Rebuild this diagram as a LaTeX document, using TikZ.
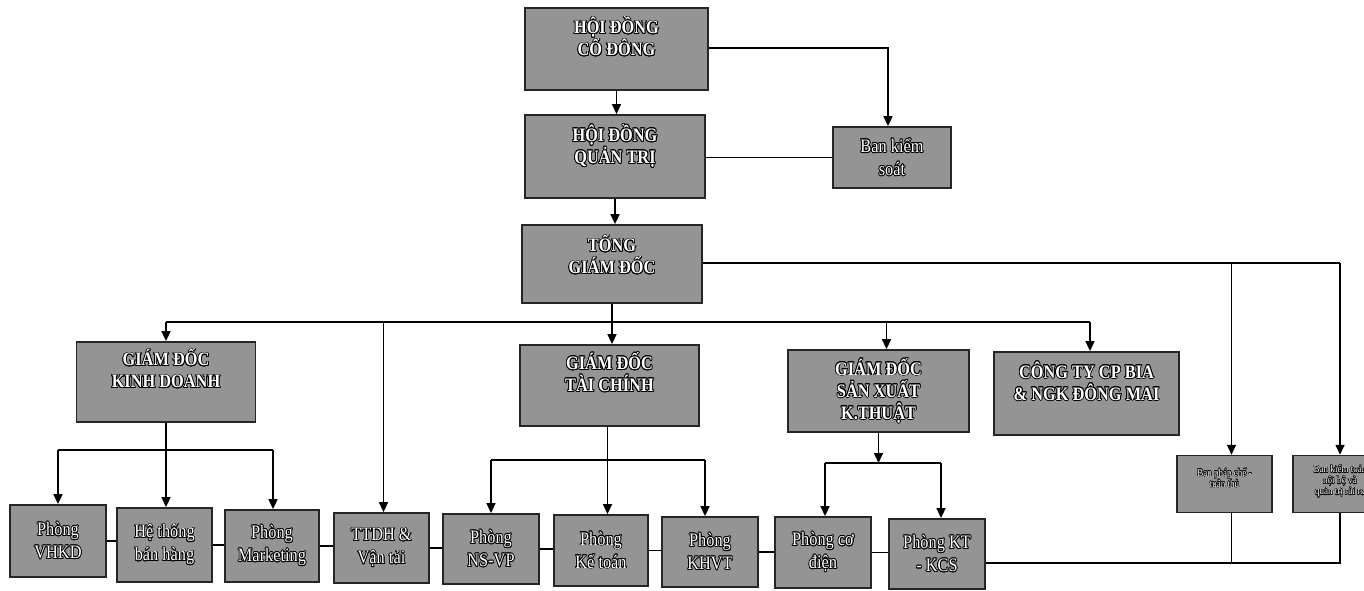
\documentclass[tikz,border=0pt]{standalone}
\usepackage{fontspec}
\setmainfont{Liberation Serif}
\newfontfamily\condfont[FakeStretch=0.86]{Liberation Serif}
\usepackage[copies]{contour}
\usetikzlibrary{arrows.meta}
\definecolor{boxgray}{RGB}{148,148,148}
\newcommand\ct[1]{\contour{black}{#1}}
\tikzset{
  box/.style={draw=black!85, line width=1.8pt, fill=boxgray, align=center, text=white, inner sep=2pt,
    font=\contourlength{0.75pt}\condfont\fontsize{19}{23}\selectfont},
  bigbox/.style={box, font=\contourlength{0.8pt}\condfont\bfseries\fontsize{19}{22}\selectfont},
  smallbox/.style={box, line width=1.5pt, font=\contourlength{0.35pt}\condfont\fontsize{10.5}{11}\selectfont},
  lift/.style={text depth=#1},
  arr/.style={-{Triangle[length=10pt,width=9pt]}, line width=1.6pt},
  ln/.style={line width=1.6pt}
}
\begin{document}
\begin{tikzpicture}[x=1pt,y=-1pt]
\useasboundingbox[fill=white] (0,0) rectangle (1364,591);
% top
\node[bigbox, lift=25pt, minimum width=183pt, minimum height=82pt] (hdcd) at (616.5,49) {\ct{HỘI ĐỒNG}\\\ct{CỔ ĐÔNG}};
\node[bigbox, lift=25pt, minimum width=180pt, minimum height=83pt] (hdqt) at (615,156.5) {\ct{HỘI ĐỒNG}\\\ct{QUẢN TRỊ}};
\node[box, minimum width=118pt, minimum height=61pt] (bks) at (892,157.5) {\ct{Ban kiểm}\\\ct{soát}};
\node[bigbox, lift=19pt, minimum width=180pt, minimum height=78pt] (tgd) at (612,264) {\ct{TỔNG}\\\ct{GIÁM ĐỐC}};
% level 2
\node[bigbox, lift=27pt, minimum width=179pt, minimum height=80pt] (gdkd) at (166,382) {\ct{GIÁM ĐỐC}\\\ct{KINH DOANH}};
\node[bigbox, lift=27pt, minimum width=179pt, minimum height=81pt] (gdtc) at (609.5,385.5) {\ct{GIÁM ĐỐC}\\\ct{TÀI CHÍNH}};
\node[bigbox, minimum width=181pt, minimum height=82pt] (gdsx) at (878.5,391) {\ct{GIÁM ĐỐC}\\\ct{SẢN XUẤT}\\\ct{K.THUẬT}};
\node[bigbox, lift=25pt, minimum width=185pt, minimum height=83pt] (cty) at (1086.5,393.5) {\ct{CÔNG TY CP BIA}\\\ct{\& NGK ĐÔNG MAI}};
% bottom
\node[box, minimum width=96pt, minimum height=72pt] (vhkd) at (58,541) {\ct{Phòng}\\\ct{VHKD}};
\node[box, minimum width=95pt, minimum height=74pt] (htbh) at (164.5,545) {\ct{Hệ thống}\\\ct{bán hàng}};
\node[box, minimum width=94pt, minimum height=72pt] (mkt) at (272,546) {\ct{Phòng}\\\ct{Marketing}};
\node[box, minimum width=95pt, minimum height=70pt] (ttdh) at (381.5,548) {\ct{TTDH \&}\\\ct{Vận tải}};
\node[box, minimum width=96pt, minimum height=70pt] (nsvp) at (491,549) {\ct{Phòng}\\\ct{NS-VP}};
\node[box, minimum width=94pt, minimum height=71pt] (kt) at (601,550.5) {\ct{Phòng}\\\ct{Kế toán}};
\node[box, minimum width=96pt, minimum height=70pt] (khvt) at (710,552) {\ct{Phòng}\\\ct{KHVT}};
\node[box, minimum width=96pt, minimum height=71pt] (cod) at (823,552.5) {\ct{Phòng cơ}\\\ct{điện}};
\node[box, minimum width=96pt, minimum height=70pt] (kcs) at (937,554) {\ct{Phòng KT}\\\ct{- KCS}};
\node[smallbox, lift=12pt, minimum width=95pt, minimum height=57pt] (bpc) at (1224.5,484) {\ct{Ban pháp chế -}\\\ct{tuân thủ}};
\node[smallbox, lift=8pt, minimum width=94pt, minimum height=57pt] (bkt) at (1340,484) {\ct{Ban kiểm toán}\\\ct{nội bộ và}\\\ct{quản trị rủi ro}};
% coordinates
\coordinate (busL) at (166,322);
\coordinate (busR) at (1090,322);
\coordinate (tgdR) at (1340,263);
\coordinate (kdbar) at (0,450);
\coordinate (tcbar) at (0,460);
\coordinate (sxbar) at (0,463);
\coordinate (botln) at (0,563);
% connectors top
\draw[arr] (hdcd.south) -- (hdcd.south |- hdqt.north);
\draw[arr] ([yshift=1pt]hdcd.east) -| ([xshift=-4pt]bks.north);
\draw[ln] (hdqt.east |- bks.west) -- (bks.west);
\draw[arr] (hdqt.south) -- (hdqt.south |- tgd.north);
\draw[arr] (tgd.south) -- (tgd.south |- gdtc.north);
\draw[ln] (busL) -- (busR);
\draw[arr] (busL) -- (gdkd.north);
\draw[arr] ([xshift=2pt]ttdh.north |- busL) -- ([xshift=2pt]ttdh.north);
\draw[arr] ([xshift=8pt]gdsx.north |- busL) -- ([xshift=8pt]gdsx.north);
\draw[arr] (busR) -- (busR |- cty.north);
\draw[ln] (tgd.east |- tgdR) -- (tgdR);
\draw[arr] (tgdR) -- (bkt.north);
\draw[arr] ([xshift=7pt]bpc.north |- tgdR) -- ([xshift=7pt]bpc.north);
% kinh doanh
\draw[arr] (gdkd.south) -- (gdkd.south |- htbh.north);
\draw[ln] (vhkd.north |- kdbar) -- ([xshift=1pt]mkt.north |- kdbar);
\draw[arr] (vhkd.north |- kdbar) -- (vhkd.north);
\draw[arr] ([xshift=1pt]mkt.north |- kdbar) -- ([xshift=1pt]mkt.north);
% tai chinh
\draw[arr] ([xshift=-2pt]gdtc.south) -- ([xshift=-2pt]gdtc.south |- kt.north);
\draw[ln] (nsvp.north |- tcbar) -- ([xshift=-5pt]khvt.north |- tcbar);
\draw[arr] (nsvp.north |- tcbar) -- (nsvp.north);
\draw[arr] ([xshift=-5pt]khvt.north |- tcbar) -- ([xshift=-5pt]khvt.north);
% san xuat
\draw[arr] (gdsx.south) -- (gdsx.south |- sxbar);
\draw[ln] ([xshift=2pt]cod.north |- sxbar) -- ([xshift=4pt]kcs.north |- sxbar);
\draw[arr] ([xshift=2pt]cod.north |- sxbar) -- ([xshift=2pt]cod.north);
\draw[arr] ([xshift=4pt]kcs.north |- sxbar) -- ([xshift=4pt]kcs.north);
% bottom row links
\draw[ln] (vhkd.east) -- (vhkd.east -| htbh.west);
\draw[ln] (htbh.east) -- (htbh.east -| mkt.west);
\draw[ln] (mkt.east) -- (mkt.east -| ttdh.west);
\draw[ln] (ttdh.east) -- (ttdh.east -| nsvp.west);
\draw[ln] (nsvp.east) -- (nsvp.east -| kt.west);
\draw[ln] (kt.east) -- (kt.east -| khvt.west);
\draw[ln] (khvt.east) -- (khvt.east -| cod.west);
\draw[ln] (cod.east) -- (cod.east -| kcs.west);
\draw[ln] (kcs.east |- botln) -| (bkt.south);
\draw[ln] ([xshift=7pt]bpc.south) -- ([xshift=7pt]bpc.south |- botln);
\end{tikzpicture}
\end{document}
